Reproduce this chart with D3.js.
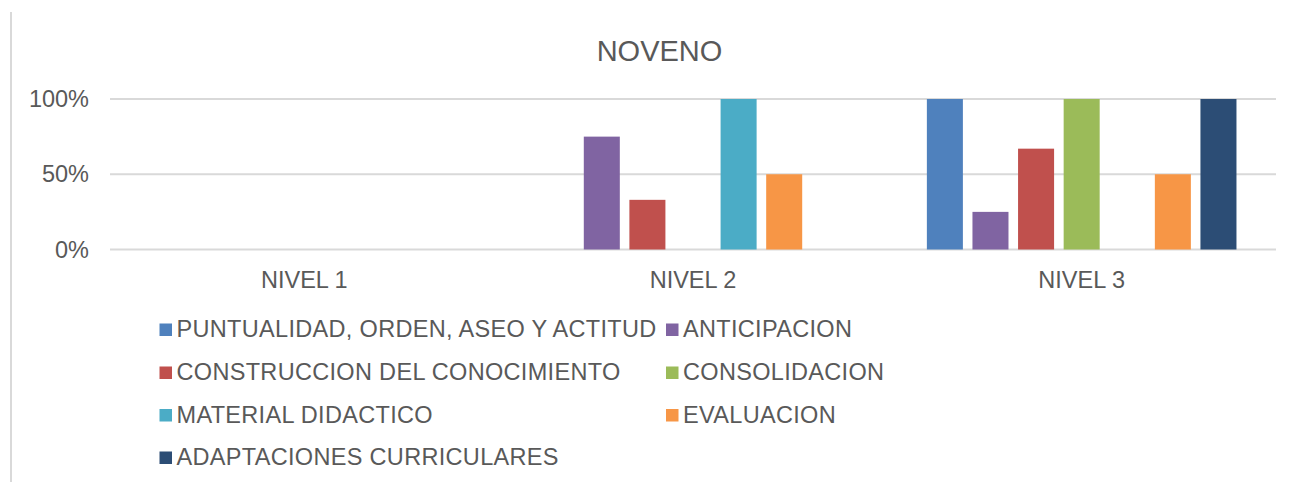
<!DOCTYPE html>
<html>
<head>
<meta charset="utf-8">
<script src="https://cdn.jsdelivr.net/npm/d3@7"></script>
<style>
    body { margin: 0; background: #ffffff; }
    text { font-family: "Liberation Sans", Arial, sans-serif; }
</style>
</head>
<body>
<div id="chart"></div>
<script>
// Data
var categories = ["NIVEL 1", "NIVEL 2", "NIVEL 3"];
var seriesNames = [
    "PUNTUALIDAD, ORDEN, ASEO Y ACTITUD",
    "ANTICIPACION",
    "CONSTRUCCION DEL CONOCIMIENTO",
    "CONSOLIDACION",
    "MATERIAL DIDACTICO",
    "EVALUACION",
    "ADAPTACIONES CURRICULARES"
];
var puntualidad = [0, 0, 1];
var anticipacion = [0, 0.75, 0.25];
var construccion = [0, 0.33, 0.67];
var consolidacion = [0, 0, 1];
var material = [0, 1, 0];
var evaluacion = [0, 0.5, 0.5];
var adaptaciones = [0, 0, 1];
var yTicks = [0, 0.5, 1];
var colors = ["#4F81BD", "#8064A2", "#C0504D", "#9BBB59", "#4BACC6", "#F79646", "#2C4D75"];

var seriesValues = [puntualidad, anticipacion, construccion, consolidacion, material, evaluacion, adaptaciones];

// Define size of svg
var svgWidth = 1291;
var svgHeight = 482;

var plot = { left: 110, right: 1276, top: 99, bottom: 249.5 };

var svg = d3
    .select("#chart")
    .append("svg")
    .attr("width", svgWidth)
    .attr("height", svgHeight);

// Left border of the chart frame
svg.append("line")
    .attr("x1", 11)
    .attr("x2", 11)
    .attr("y1", 12)
    .attr("y2", svgHeight)
    .attr("stroke", "#d9d9d9")
    .attr("stroke-width", 2);

// Title
svg.append("text")
    .attr("x", 659.5)
    .attr("y", 61)
    .attr("text-anchor", "middle")
    .attr("font-size", "29px")
    .attr("fill", "#595959")
    .text("NOVENO");

// Scales
var xScale = d3.scaleBand()
    .domain(categories)
    .range([plot.left, plot.right])
    .paddingInner(0)
    .paddingOuter(0);

var xInner = d3.scaleBand()
    .domain(d3.range(seriesNames.length))
    .range([0, xScale.bandwidth()])
    .paddingInner(0.21)
    .paddingOuter(0.867);

var yScale = d3.scaleLinear()
    .domain([0, 1])
    .range([plot.bottom, plot.top]);

// Gridlines
svg.append("g")
    .selectAll("line")
    .data(yTicks)
    .enter()
    .append("line")
    .attr("x1", plot.left)
    .attr("x2", plot.right)
    .attr("y1", d => yScale(d))
    .attr("y2", d => yScale(d))
    .attr("stroke", "#d9d9d9")
    .attr("stroke-width", 2);

// Bars
var groups = svg.append("g")
    .selectAll("g")
    .data(seriesValues)
    .enter()
    .append("g")
    .attr("fill", (d, i) => colors[i]);

groups.selectAll("rect")
    .data((d, i) => d.map((v, j) => ({ s: i, cat: categories[j], value: v })))
    .enter()
    .append("rect")
    .attr("x", d => xScale(d.cat) + xInner(d.s))
    .attr("width", xInner.bandwidth())
    .attr("y", d => yScale(d.value))
    .attr("height", d => yScale(0) - yScale(d.value));

// Axes
var leftAxis = d3.axisLeft(yScale)
    .tickValues(yTicks)
    .tickFormat(d3.format(".0%"))
    .tickSize(0)
    .tickPadding(21);

var bottomAxis = d3.axisBottom(xScale)
    .tickSize(0)
    .tickPadding(21.5);

var leftG = svg.append("g")
    .attr("transform", `translate(${plot.left}, 0)`)
    .call(leftAxis);

var bottomG = svg.append("g")
    .attr("transform", `translate(0, ${plot.bottom})`)
    .call(bottomAxis);

[leftG, bottomG].forEach(g => {
    g.select(".domain").remove();
    g.selectAll("text")
        .attr("font-family", "Liberation Sans, Arial, sans-serif")
        .attr("font-size", "23.5px")
        .attr("fill", "#595959");
});

// Legend (two columns, row by row)
var legendCols = [159.5, 666];
var legendRows = [337, 380, 422.5, 465];

var legend = svg.append("g")
    .selectAll("g")
    .data(seriesNames)
    .enter()
    .append("g")
    .attr("transform", (d, i) => `translate(${legendCols[i % 2]}, ${legendRows[Math.floor(i / 2)]})`);

legend.append("rect")
    .attr("x", 0)
    .attr("y", -13.5)
    .attr("width", 12.5)
    .attr("height", 12.5)
    .attr("fill", (d, i) => colors[i]);

legend.append("text")
    .attr("x", 17)
    .attr("y", 0)
    .attr("font-size", "23.5px")
    .attr("letter-spacing", "0.32px")
    .attr("fill", "#595959")
    .text(d => d);
</script>
</body>
</html>
